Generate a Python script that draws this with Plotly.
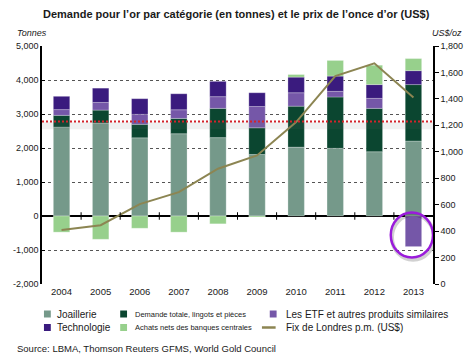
import plotly.graph_objects as go

# ---------------- data ----------------
years = ["2004", "2005", "2006", "2007", "2008", "2009", "2010", "2011", "2012", "2013"]
jewellery = [2615, 2735, 2300, 2420, 2305, 1810, 2025, 1990, 1890, 2205]
bar_coin = [345, 380, 395, 450, 860, 785, 1205, 1510, 1275, 1660]
etf = [170, 225, 295, 255, 345, 625, 395, 165, 295, -900]
technology = [390, 420, 460, 470, 450, 405, 460, 450, 405, 410]
central_banks = [-475, -685, -360, -475, -230, -30, 75, 460, 570, 355]
gold_price = [409, 445, 604, 695, 872, 972, 1225, 1572, 1669, 1411]
reference_level = 2780

left_tickvals = [-2000, -1000, 0, 1000, 2000, 3000, 4000, 5000]
left_ticktext = ["-2,000", "-1,000", "0", "1,000", "2,000", "3,000", "4,000", "5,000"]
right_tickvals = [0, 200, 400, 600, 800, 1000, 1200, 1400, 1600, 1800]
right_ticktext = ["0", "200", "400", "600", "800", "1,000", "1,200", "1,400", "1,600", "1,800"]

names = {
    "jew": "Joaillerie",
    "bar": "Demande totale, lingots et pièces",
    "etf": "Les ETF et autres produits similaires",
    "tech": "Technologie",
    "cb": "Achats nets des banques centrales",
    "price": "Fix de Londres p.m. (US$)",
}
colors = {
    "jew": "#75998A",
    "bar": "#0B4630",
    "etf": "#7557A8",
    "tech": "#3A1B7E",
    "cb": "#97D08C",
    "price": "#8C8552",
}

title = "Demande pour l\u2019or par catégorie (en tonnes) et le prix de l\u2019once d\u2019or (US$)"
source = "Source: LBMA, Thomson Reuters GFMS, World Gold Council"

# ---------------- layout geometry ----------------
W, H = 475, 357
ML, MR, MT, MB = 42, 33, 46, 73
PW, PH = W - ML - MR, H - MT - MB
FONT = "Liberation Sans, Arial, sans-serif"


def px2x(px):
    return (px - ML) / PW


def py2y(py):
    return (H - MB - py) / PH


fig = go.Figure()
seg_line = dict(color="rgba(255,255,255,0.5)", width=0.5)
for key, vals in [("jew", jewellery), ("bar", bar_coin), ("etf", etf),
                  ("tech", technology), ("cb", central_banks)]:
    fig.add_trace(go.Bar(x=years, y=vals, name=names[key], width=0.42,
                         marker=dict(color=colors[key], line=seg_line),
                         yaxis="y", showlegend=False))

fig.add_trace(go.Scatter(x=years, y=gold_price, name=names["price"], mode="lines",
                         line=dict(color=colors["price"], width=2),
                         yaxis="y2", showlegend=False))

shapes = []
# shadow under the red reference line
shapes.append(dict(type="rect", xref="paper", x0=0, x1=1, yref="y",
                   y0=reference_level - 230, y1=reference_level - 20,
                   fillcolor="rgba(110,110,110,0.10)", line=dict(width=0), layer="above"))
shapes.append(dict(type="line", xref="paper", x0=0, x1=1, yref="y",
                   y0=reference_level, y1=reference_level,
                   line=dict(color="#D2232A", width=2, dash="2px,2px")))
# ticks on the zero line at category boundaries
for i in range(len(years) - 1):
    shapes.append(dict(type="line", xref="x", yref="y", x0=i + 0.5, x1=i + 0.5,
                       y0=-110, y1=110, line=dict(color="black", width=1)))
# highlight circle around 2013 ETF outflow (with soft shadow)
shapes.append(dict(type="circle", xref="x", yref="y", x0=8.45, x1=9.53,
                   y0=-1290, y1=40, line=dict(color="rgba(0,0,0,0.18)", width=4)))
shapes.append(dict(type="circle", xref="x", yref="y", x0=8.42, x1=9.5,
                   y0=-1222, y1=103, line=dict(color="#9A1BDB", width=2.5)))

annotations = []
annotations.append(dict(text="<b>" + title + "</b>", x=px2x(240.5), y=py2y(14),
                        xref="paper", yref="paper", xanchor="center", yanchor="middle",
                        showarrow=False, font=dict(size=11, color="#1a1a1a", family=FONT)))
annotations.append(dict(text="<i>Tonnes</i>", x=px2x(14), y=py2y(33), xref="paper", yref="paper",
                        xanchor="left", yanchor="middle", showarrow=False,
                        font=dict(size=9, color="#1a1a1a", family=FONT)))
annotations.append(dict(text="<i>US$/oz</i>", x=px2x(474), y=py2y(33), xref="paper", yref="paper",
                        xanchor="right", yanchor="middle", showarrow=False,
                        font=dict(size=9, color="#1a1a1a", family=FONT)))
annotations.append(dict(text=source, x=px2x(14), y=py2y(348), xref="paper", yref="paper",
                        xanchor="left", yanchor="middle", showarrow=False,
                        font=dict(size=9.5, color="#1a1a1a", family=FONT)))

# manual legend: (key, swatch x0, swatch x1, text x, row y, font size, kind)
legend_items = [
    ("jew", 44, 51, 55, 314, 10, "box"),
    ("tech", 44, 51, 55, 327.5, 10, "box"),
    ("bar", 122, 129, 135, 314, 7.5, "box"),
    ("cb", 122, 129, 135, 327.5, 7.5, "box"),
    ("etf", 275, 282, 290, 314, 10, "box"),
    ("price", 267, 281, 290, 327.5, 10, "line"),
]
for key, sx0, sx1, tx, ry, fs, kind in legend_items:
    if kind == "box":
        shapes.append(dict(type="rect", xref="paper", yref="paper",
                           x0=px2x(sx0), x1=px2x(sx1), y0=py2y(ry + 3.5), y1=py2y(ry - 3.5),
                           fillcolor=colors[key], line=dict(width=0)))
    else:
        shapes.append(dict(type="line", xref="paper", yref="paper",
                           x0=px2x(sx0), x1=px2x(sx1), y0=py2y(ry), y1=py2y(ry),
                           line=dict(color=colors[key], width=2.5)))
    annotations.append(dict(text=names[key], x=px2x(tx), y=py2y(ry), xref="paper", yref="paper",
                            xanchor="left", yanchor="middle", showarrow=False,
                            font=dict(size=fs, color="#1a1a1a", family=FONT)))

fig.update_layout(
    width=W, height=H,
    margin=dict(l=ML, r=MR, t=MT, b=MB, pad=0),
    paper_bgcolor="white", plot_bgcolor="white",
    barmode="relative", bargap=0.58,
    font=dict(family=FONT, size=9, color="#1a1a1a"),
    showlegend=False,
    shapes=shapes, annotations=annotations,
    xaxis=dict(type="category", showgrid=False, showline=False, ticks="",
               zeroline=False, tickfont=dict(size=9.5, color="#1a1a1a"),
               range=[-0.5, 9.5]),
    yaxis=dict(range=[-2000, 5000], tickvals=left_tickvals, ticktext=left_ticktext,
               showgrid=True, gridcolor="#555555", griddash="dot", gridwidth=1,
               zeroline=True, zerolinecolor="black", zerolinewidth=1.5,
               showline=True, linecolor="black", linewidth=1.5,
               ticks="inside", ticklen=3, tickcolor="black",
               tickfont=dict(size=9, color="#1a1a1a")),
    yaxis2=dict(range=[0, 1800], tickvals=right_tickvals, ticktext=right_ticktext,
                overlaying="y", side="right", showgrid=False, zeroline=False,
                showline=True, linecolor="black", linewidth=1.5,
                ticks="outside", ticklen=4, tickcolor="black",
                tickfont=dict(size=9, color="#1a1a1a")),
)

fig.write_html("out.html",
               config={"displayModeBar": False},
               post_script="document.body.style.margin='0';document.body.style.padding='0';")
